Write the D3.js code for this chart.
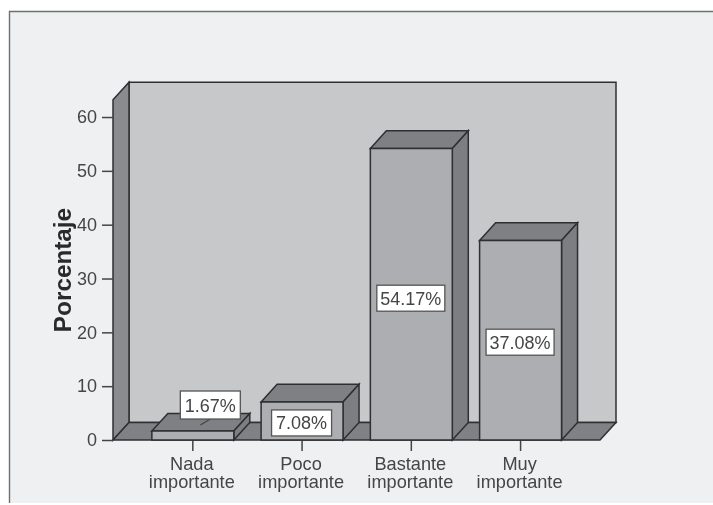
<!DOCTYPE html>
<html><head><meta charset="utf-8">
<script src="https://cdnjs.cloudflare.com/ajax/libs/d3/7.8.5/d3.min.js"></script>
<style>html,body{margin:0;padding:0;background:#fff}svg{display:block;filter:blur(.35px)}text{font-family:"Liberation Sans",Arial,sans-serif}</style>
</head><body><svg id="c" width="713" height="505"></svg>
<script>
const categories=["Nada importante","Poco importante","Bastante importante","Muy importante"];
const percentages=[1.67,7.08,54.17,37.08];
const valueLabels=["1.67%","7.08%","54.17%","37.08%"];
const yTicks=[0,10,20,30,40,50,60];
const yTitle="Porcentaje";

const W=713,H=505,dx=16,dy=17.6;
const svg=d3.select("#c");
const ink="#2e2f31",txt="#444547";
const y=d3.scaleLinear().domain([0,63.2]).range([440,99.8]);
const x=d3.scaleBand().domain(categories).range([138.2,575.2]).paddingInner(.25).paddingOuter(.125);
const L=113,R=600,B=y(0),T=y.range()[1];

// panel
svg.append("rect").attr("x",9).attr("y",11).attr("width",W).attr("height",492).attr("fill","#eff0f2");
svg.append("path").attr("d",`M9.5,503V11.5H${W}`).attr("fill","none").attr("stroke","#6e6f71").attr("stroke-width",1.4);

const poly=(pts,fill,sw=1.5)=>svg.append("path").attr("d","M"+pts.map(p=>p.join(",")).join("L")+"Z").attr("fill",fill).attr("stroke",ink).attr("stroke-width",sw).attr("stroke-linejoin","miter");
// walls and floor
poly([[L+dx,T-dy],[R+dx,T-dy],[R+dx,B-dy],[L+dx,B-dy]],"#c7c8ca");
poly([[L,T],[L+dx,T-dy],[L+dx,B-dy],[L,B]],"#8a8b8e");
poly([[L,B],[L+dx,B-dy],[R+dx,B-dy],[R,B]],"#808184");

// axes
const yAxis=svg.append("g").attr("transform",`translate(${L},0)`).call(d3.axisLeft(y).tickValues(yTicks).tickSize(11).tickPadding(5));
const xAxis=svg.append("g").attr("transform",`translate(0,${B})`).call(d3.axisBottom(x).tickSize(11).tickPadding(0));
[yAxis,xAxis].forEach(g=>{g.select(".domain").remove();g.selectAll("line").attr("stroke","#444").attr("stroke-width",1.5);});
yAxis.selectAll("text").attr("font-size",18).attr("fill",txt);
xAxis.selectAll("text").each(function(d){
  const t=d3.select(this).text("").attr("font-size",18.2).attr("fill",txt).attr("y",0).attr("dy",0);
  d.split(" ").forEach((w,i)=>t.append("tspan").attr("x",-1).attr("y",30+i*18).text(w));
});

// bars
percentages.forEach((v,i)=>{
  const c=categories[i],a=x(c),b=a+x.bandwidth(),t=y(v);
  poly([[a,t],[a+dx,t-dy],[b+dx,t-dy],[b,t]],"#7f8083");
  poly([[b,t],[b+dx,t-dy],[b+dx,B-dy],[b,B]],"#7d7e81");
  poly([[a,t],[b,t],[b,B],[a,B]],"#adaeb1");
});

// value labels
percentages.forEach((v,i)=>{
  const c=categories[i],cx=x(c)+x.bandwidth()/2,small=v<3;
  const mx=cx+(small?17.5:-.5),my=small?y(v)-26:y(v/2)+(v>50?4:2);
  const w=valueLabels[i].length>5?68:60,h=small?28:26;
  if(small) svg.append("line").attr("x1",mx-10).attr("y1",my+20).attr("x2",mx).attr("y2",my+14).attr("stroke","#444").attr("stroke-width",1.2);
  svg.append("rect").attr("x",mx-w/2).attr("y",my-h/2).attr("width",w).attr("height",h).attr("fill","#fff").attr("stroke","#555").attr("stroke-width",1.3);
  svg.append("text").attr("x",mx).attr("y",my+6.5).attr("text-anchor","middle").attr("font-size",18).attr("fill",txt).text(valueLabels[i]);
});

// y title
svg.append("text").attr("transform","translate(71,270) rotate(-90)").attr("text-anchor","middle").attr("font-size",24.3).attr("font-weight","bold").attr("fill","#2a2a2c").text(yTitle);
</script></body></html>
